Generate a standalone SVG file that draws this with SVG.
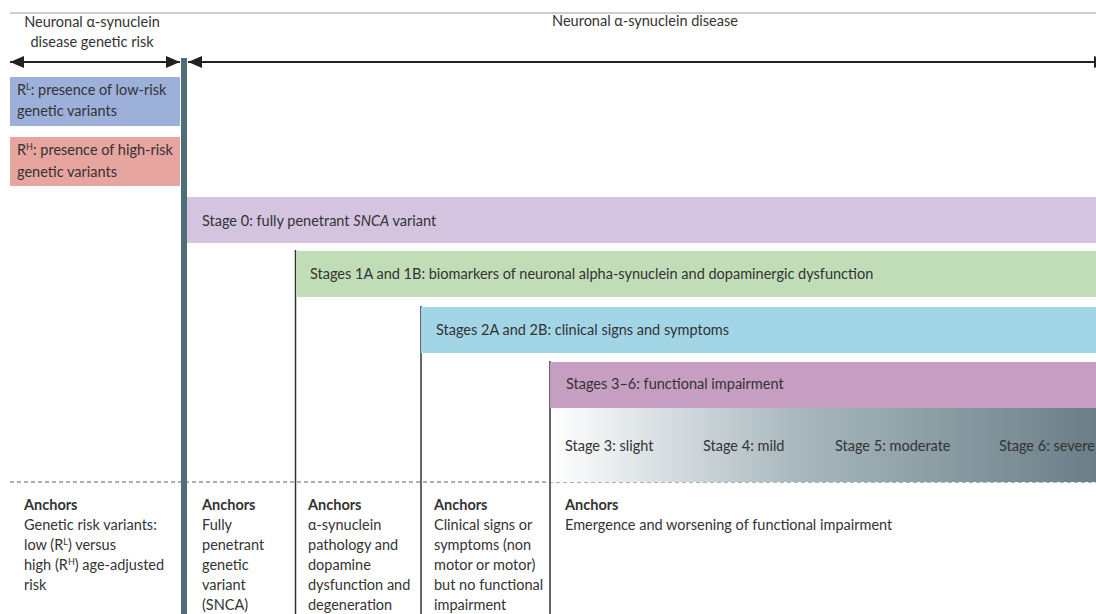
<svg xmlns="http://www.w3.org/2000/svg" width="1096" height="614" viewBox="0 0 1096 614">
<style>
text{font-family:Lato,"Liberation Sans",sans-serif;font-size:14.5px;fill:#333}
.b{font-weight:bold}
.vl{stroke:#333;stroke-width:1.5}
.sup{font-size:9px}
</style>
<defs>
<marker id="ah" viewBox="0 0 14 12" refX="14" refY="6" markerWidth="14" markerHeight="12" markerUnits="userSpaceOnUse" orient="auto-start-reverse">
<path d="M0,0 L14,6 L0,12 z" fill="#222"/>
</marker>
<linearGradient id="g" x1="0" y1="0" x2="1" y2="0">
<stop offset="0" stop-color="#ffffff"/>
<stop offset="0.45" stop-color="#a9b8be"/>
<stop offset="1" stop-color="#6b7e87"/>
</linearGradient>
</defs>
<rect width="1096" height="614" fill="#fff"/>
<line x1="10" y1="13" x2="1096" y2="13" stroke="#9a9a9a" stroke-width="1"/>
<g id="header">
<text x="92" y="27" text-anchor="middle">Neuronal α-synuclein</text>
<text x="92" y="47" text-anchor="middle">disease genetic risk</text>
<text x="645" y="26" text-anchor="middle">Neuronal α-synuclein disease</text>
</g>
<g id="connectors">
<line x1="10" y1="62" x2="180" y2="62" stroke="#222" stroke-width="2" marker-start="url(#ah)" marker-end="url(#ah)"/>
<line x1="188" y1="62" x2="1108" y2="62" stroke="#222" stroke-width="2" marker-start="url(#ah)" marker-end="url(#ah)"/>
<line class="vl" x1="295.5" y1="250" x2="295.5" y2="614"/>
<line class="vl" x1="421" y1="306" x2="421" y2="614"/>
<line class="vl" x1="550" y1="361" x2="550" y2="614"/>
<line x1="10" y1="482" x2="1096" y2="482" stroke="#556270" stroke-width="1" stroke-dasharray="4 3"/>
</g>
<g id="rl">
<rect x="10" y="77" width="170" height="49" fill="#9cb0d9"/>
<text x="17" y="95">R<tspan class="sup" dy="-5">L</tspan><tspan dy="5">: presence of low-risk</tspan></text>
<text x="17" y="116">genetic variants</text>
</g>
<g id="rh">
<rect x="10" y="137" width="170" height="49" fill="#e7a5a0"/>
<text x="17" y="155">R<tspan class="sup" dy="-5">H</tspan><tspan dy="5">: presence of high-risk</tspan></text>
<text x="17" y="177">genetic variants</text>
</g>
<g id="divider">
<rect x="181" y="58" width="6" height="556" fill="#4e6e78"/>
</g>
<g id="stage0">
<rect x="187" y="197" width="909" height="46" fill="#d4c4e0"/>
<text x="202" y="226">Stage 0: fully penetrant <tspan font-style="italic">SNCA</tspan> variant</text>
</g>
<g id="stage1">
<rect x="296" y="251" width="800" height="46" fill="#c1ddb8"/>
<text x="310" y="279">Stages 1A and 1B: biomarkers of neuronal alpha-synuclein and dopaminergic dysfunction</text>
</g>
<g id="stage2">
<rect x="421" y="307" width="675" height="46" fill="#a2d5e6"/>
<text x="436" y="335">Stages 2A and 2B: clinical signs and symptoms</text>
</g>
<g id="stage36">
<rect x="550" y="362" width="546" height="46" fill="#c59ec1"/>
<text x="566" y="389">Stages 3–6: functional impairment</text>
</g>
<g id="severity">
<rect x="551" y="408" width="545" height="74" fill="url(#g)"/>
<text x="565" y="451">Stage 3: slight</text>
<text x="703" y="451">Stage 4: mild</text>
<text x="835" y="451">Stage 5: moderate</text>
<text x="999" y="451">Stage 6: severe</text>
</g>
<g id="anchor1">
<text x="24" y="510" class="b">Anchors</text>
<text x="24" y="530">Genetic risk variants:</text>
<text x="24" y="550">low (R<tspan class="sup" dy="-5">L</tspan><tspan dy="5">) versus</tspan></text>
<text x="24" y="570">high (R<tspan class="sup" dy="-5">H</tspan><tspan dy="5">) age-adjusted</tspan></text>
<text x="24" y="590">risk</text>
</g>
<g id="anchor2">
<text x="202" y="510" class="b">Anchors</text>
<text x="202" y="530">Fully</text>
<text x="202" y="550">penetrant</text>
<text x="202" y="570">genetic</text>
<text x="202" y="590">variant</text>
<text x="202" y="610">(SNCA)</text>
</g>
<g id="anchor3">
<text x="308" y="510" class="b">Anchors</text>
<text x="308" y="530">α-synuclein</text>
<text x="308" y="550">pathology and</text>
<text x="308" y="570">dopamine</text>
<text x="308" y="590">dysfunction and</text>
<text x="308" y="610">degeneration</text>
</g>
<g id="anchor4">
<text x="434" y="510" class="b">Anchors</text>
<text x="434" y="530">Clinical signs or</text>
<text x="434" y="550">symptoms (non</text>
<text x="434" y="570">motor or motor)</text>
<text x="434" y="590">but no functional</text>
<text x="434" y="610">impairment</text>
</g>
<g id="anchor5">
<text x="565" y="510" class="b">Anchors</text>
<text x="565" y="530">Emergence and worsening of functional impairment</text>
</g>
</svg>
